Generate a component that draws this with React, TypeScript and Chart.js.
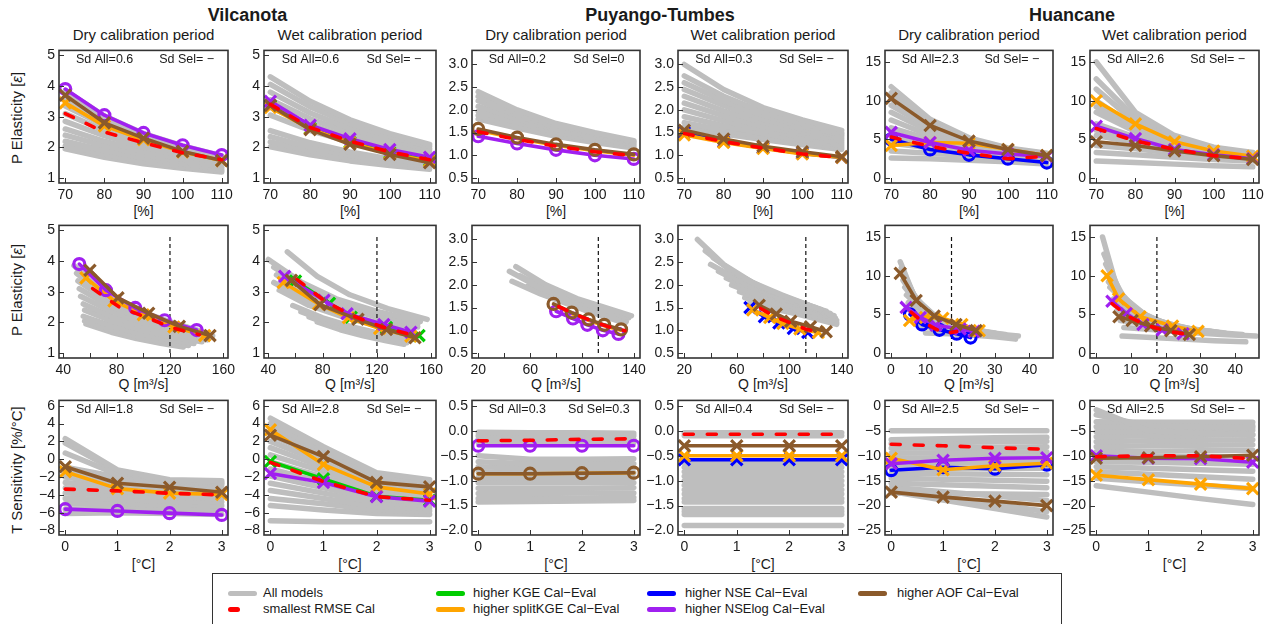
import React, { useEffect, useRef } from "react";
import { Chart, registerables } from "chart.js";

Chart.register(...registerables);

const FONT = '"Liberation Sans", Arial, Helvetica, sans-serif';

// ---------------- axes: ticks and ranges ----------------
const PCT = [70, 80, 90, 100, 110];
const DT = [0, 1, 2, 3];
const PCT_RANGE = [68.4, 111.6];
const DT_RANGE = [-0.12, 3.12];
const ELAS_TICKS = [[1, 2, 3, 4, 5], [0.5, 1.0, 1.5, 2.0, 2.5, 3.0], [0, 5, 10, 15]];
const ELAS_RANGE = [[0.84, 5.16], [0.39, 3.31], [-0.64, 16.5]];
const Q_TICKS = [[40, 60, 80, 100, 120, 140, 160], [20, 40, 60, 80, 100, 120, 140], [0, 10, 20, 30, 40]];
const Q_LABELED = [[40, 80, 120, 160], [20, 60, 100, 140], [0, 10, 20, 30, 40]];
const Q_RANGE = [[36.8, 163.5], [15.2, 144.6], [-1.7, 46.8]];
const SENS_TICKS = [[-8, -6, -4, -2, 0, 2, 4, 6], [-2.0, -1.5, -1.0, -0.5, 0.0, 0.5], [-25, -20, -15, -10, -5, 0]];
const SENS_RANGE = [[-8.5, 6.6], [-2.09, 0.61], [-25.9, 1.1]];
const Y_DECIMALS = [0, 1, 0];
const Q_THRESHOLD = [120, 112.5, 17.5];
const Q_THRESHOLD_Y = [[1, 4.85], [0.5, 3.1], [0, 15.3]];

// ---------------- texts ----------------
const BASINS = ["Vilcanota", "Puyango-Tumbes", "Huancane"];
const PERIODS = ["Dry calibration period", "Wet calibration period"];
const SD_ELAS = ["Sd All=0.6|Sd Sel= \u2212", "Sd All=0.6|Sd Sel= \u2212", "Sd All=0.2|Sd Sel=0", "Sd All=0.3|Sd Sel= \u2212", "Sd All=2.3|Sd Sel= \u2212", "Sd All=2.6|Sd Sel= \u2212"];
const SD_SENS = ["Sd All=1.8|Sd Sel= \u2212", "Sd All=2.8|Sd Sel= \u2212", "Sd All=0.3|Sd Sel=0.3", "Sd All=0.4|Sd Sel= \u2212", "Sd All=2.5|Sd Sel= \u2212", "Sd All=2.5|Sd Sel= \u2212"];
const LEGEND_LABELS = ["All models", "smallest RMSE Cal", "higher KGE Cal\u2212Eval", "higher splitKGE Cal\u2212Eval", "higher NSE Cal\u2212Eval", "higher NSElog Cal\u2212Eval", "higher AOF Cal\u2212Eval"];
const LEGEND_KEYS = ["gray", "red", "green", "orange", "blue", "purple", "brown"];

const COLORS: Record<string, string> = {
  gray: "#bebebe", red: "#ff0000", green: "#00cd00", orange: "#ffa500",
  blue: "#0000ff", purple: "#a020f0", brown: "#8b5a2b",
};

// ---------------- Vilcanota dry ----------------
const VD_ELAS = { red: [3.1, 2.5, 2.15, 1.82, 1.6], brown: [3.7, 2.8, 2.3, 1.87, 1.57], purple: [3.9, 3.05, 2.47, 2.07, 1.75], orange: [3.45, 2.7, 2.25, 1.85, 1.57] };
const VD_Q = { red: [62, 82, 103, 122, 142], brown: [60, 81, 104, 127, 150], purple: [52, 72, 94, 116, 140], orange: [57, 78, 100, 123, 146] };
const VD_SENS = { red: [-3.35, -3.55, -3.82, -4.0], brown: [-0.85, -2.7, -3.15, -3.7], purple: [-5.6, -5.8, -6.05, -6.25], orange: [-1.4, -3.3, -3.8, -3.95] };
const VD_MARK = { purple: "circle", brown: "crossRot", orange: "crossRot" };
const VD_GRAY_ELAS = [
  [3.85, 3.02, 2.45, 2.05, 1.72], [3.6, 2.88, 2.36, 1.98, 1.67], [3.35, 2.72, 2.25, 1.9, 1.62],
  [3.1, 2.55, 2.12, 1.8, 1.56], [2.85, 2.38, 2.0, 1.72, 1.5], [2.6, 2.2, 1.87, 1.62, 1.43],
  [2.4, 2.05, 1.76, 1.54, 1.37], [2.2, 1.9, 1.65, 1.46, 1.31], [2.05, 1.78, 1.55, 1.38, 1.25],
  [1.95, 1.68, 1.47, 1.32, 1.2],
];
const VD_GRAY_Q = [
  [48, 68, 92, 118, 142], [50, 71, 95, 121, 146], [51, 73, 97, 123, 150],
  [52, 74, 98, 124, 152], [53, 75, 99, 125, 150], [55, 76, 99, 123, 148],
  [56, 76, 98, 120, 144], [55, 75, 96, 117, 138], [56, 75, 95, 115, 134],
  [57, 76, 95, 113, 130],
];
const VD_GRAY_SENS = [
  [2.3, -1.2, -2.3, -2.4], [1.8, -1.4, -2.4, -2.6], [0.7, -1.7, -2.5, -2.7], [-0.9, -2.0, -2.7, -2.9],
  [-1.5, -2.4, -3.0, -3.2], [-2.0, -2.8, -3.3, -3.5], [-2.6, -3.2, -3.6, -3.8], [-3.2, -3.6, -3.9, -4.1],
  [-3.8, -4.0, -4.3, -4.4], [-4.4, -4.5, -4.7, -4.8], [-5.0, -5.0, -5.1, -5.2], [-5.6, -5.5, -5.6, -5.7],
  [-6.1, -6.0, -6.1, -6.2],
];

// ---------------- Vilcanota wet ----------------
const VW_ELAS = { red: [3.4, 2.65, 2.2, 1.85, 1.6], brown: [3.37, 2.58, 2.1, 1.77, 1.5], purple: [3.5, 2.72, 2.28, 1.93, 1.68], orange: [3.3, 2.6, 2.15, 1.8, 1.55], green: [3.35, 2.62, 2.17, 1.83, 1.57] };
const VW_Q = { red: [61, 83, 103, 124, 145], brown: [57, 78, 106, 127, 148], purple: [52, 81, 98, 125, 145], orange: [51, 77, 99, 122, 145], green: [60, 85, 101, 127, 151] };
const VW_SENS = { red: [-0.35, -2.5, -4.2, -4.6], brown: [2.7, 0.3, -2.6, -3.1], purple: [-1.6, -2.6, -4.2, -4.7], orange: [3.3, -0.6, -3.1, -3.9], green: [-0.25, -2.2, -4.15, -4.6] };
const VW_MARK = { purple: "crossRot", brown: "crossRot", orange: "crossRot", green: "crossRot" };
const VW_GRAY_ELAS = [
  [4.3, 3.5, 2.9, 2.45, 2.1], [4.05, 3.32, 2.77, 2.36, 2.03], [3.8, 3.12, 2.62, 2.25, 1.94],
  [3.55, 2.93, 2.48, 2.13, 1.85], [3.3, 2.74, 2.33, 2.02, 1.76], [3.05, 2.55, 2.18, 1.9, 1.67],
  [2.55, 2.15, 1.85, 1.62, 1.45], [2.35, 2.0, 1.74, 1.54, 1.39], [2.18, 1.88, 1.64, 1.47, 1.34],
  [2.02, 1.76, 1.56, 1.41, 1.29],
];
const VW_GRAY_Q = [
  [54, 76, 100, 128, 157], [40, 64, 90, 120, 152], [44, 68, 94, 122, 150],
  [46, 70, 96, 123, 150], [44, 67, 92, 118, 146], [48, 70, 95, 120, 145],
  [58, 80, 102, 124, 146], [64, 85, 105, 125, 144], [70, 89, 108, 126, 142],
  [76, 93, 110, 126, 140],
];
const VW_GRAY_SENS = [
  [4.6, 1.4, -1.5, -2.3], [4.0, 1.0, -1.8, -2.5], [3.4, 0.6, -2.1, -2.8], [2.7, 0.1, -2.4, -3.0],
  [2.0, -0.4, -2.7, -3.3], [1.3, -0.9, -3.0, -3.5], [0.5, -1.4, -3.3, -3.8], [-0.3, -2.0, -3.7, -4.1],
  [-1.1, -2.6, -4.1, -4.4], [-1.9, -3.2, -4.5, -4.8], [-2.7, -3.8, -4.9, -5.1], [-3.5, -4.4, -5.3, -5.5],
  [-4.4, -5.0, -5.7, -5.8], [-5.2, -5.7, -6.1, -6.2], [-6.9, -7.0, -7.0, -7.0],
];

// ---------------- Puyango-Tumbes dry ----------------
const PD_ELAS = { red: [1.52, 1.35, 1.2, 1.08, 0.99], brown: [1.58, 1.39, 1.24, 1.12, 1.02], purple: [1.42, 1.26, 1.12, 1.0, 0.92], orange: [1.55, 1.37, 1.22, 1.1, 1.0] };
const PD_Q = { red: [82, 95, 108, 120, 133], brown: [78, 92, 105, 117, 130], purple: [80, 93, 104, 116, 128], orange: [79, 92, 105, 117, 130] };
const PD_SENS = { red: [-0.2, -0.19, -0.17, -0.16], brown: [-0.86, -0.86, -0.85, -0.84], purple: [-0.3, -0.3, -0.3, -0.3], orange: [-0.86, -0.86, -0.85, -0.84] };
const PD_MARK = { brown: "circle", purple: "circle" };
const PD_GRAY_ELAS = [
  [2.4, 2.0, 1.7, 1.5, 1.32], [2.3, 1.93, 1.66, 1.47, 1.3], [2.2, 1.87, 1.62, 1.44, 1.28],
  [2.08, 1.8, 1.57, 1.4, 1.25], [1.97, 1.72, 1.51, 1.36, 1.22], [1.88, 1.65, 1.46, 1.32, 1.19],
  [1.8, 1.6, 1.42, 1.28, 1.16],
];
const PD_GRAY_Q = [
  [49, 72, 96, 118, 138], [44, 68, 92, 114, 134], [52, 75, 98, 118, 136],
  [46, 68, 90, 110, 128], [58, 79, 99, 117, 133], [64, 84, 102, 119, 134],
  [70, 88, 104, 120, 133],
];
const PD_GRAY_SENS = [
  [-0.03, -0.04, -0.04, -0.05], [-0.1, -0.1, -0.1, -0.1], [-0.17, -0.17, -0.17, -0.17], [-0.24, -0.24, -0.24, -0.24],
  [-0.5, -0.57, -0.57, -0.56], [-0.62, -0.66, -0.66, -0.66], [-0.72, -0.75, -0.75, -0.74], [-0.82, -0.84, -0.84, -0.84],
  [-0.93, -0.94, -0.94, -0.94], [-1.04, -1.04, -1.04, -1.04], [-1.15, -1.15, -1.15, -1.14], [-1.26, -1.26, -1.25, -1.25],
  [-1.36, -1.36, -1.35, -1.34], [-1.43, -1.42, -1.41, -1.4],
];

// ---------------- Puyango-Tumbes wet ----------------
const PW_ELAS = { red: [1.48, 1.3, 1.16, 1.03, 0.95], brown: [1.55, 1.36, 1.2, 1.08, 0.97], blue: [1.5, 1.3, 1.16, 1.04, 0.95], orange: [1.45, 1.28, 1.15, 1.03, 0.95] };
const PW_Q = { red: [78, 89, 101, 112, 123], brown: [77, 90, 101, 116, 128], blue: [70, 81, 92, 103, 114], orange: [72, 85, 95, 108, 122] };
const PW_SENS = { red: [-0.07, -0.07, -0.07, -0.07], brown: [-0.3, -0.3, -0.3, -0.3], blue: [-0.58, -0.58, -0.58, -0.58], orange: [-0.5, -0.5, -0.5, -0.5] };
const PW_MARK = { brown: "crossRot", blue: "crossRot", orange: "crossRot" };
const PW_GRAY_ELAS = [
  [3.0, 2.45, 2.05, 1.78, 1.55], [2.75, 2.3, 1.95, 1.7, 1.5], [2.6, 2.2, 1.88, 1.64, 1.46],
  [2.45, 2.1, 1.8, 1.58, 1.42], [2.3, 1.98, 1.72, 1.52, 1.37], [2.15, 1.87, 1.64, 1.46, 1.32],
  [2.0, 1.76, 1.56, 1.4, 1.27], [1.85, 1.65, 1.48, 1.33, 1.22], [1.72, 1.55, 1.41, 1.28, 1.17],
  [1.62, 1.47, 1.35, 1.23, 1.13],
];
const PW_GRAY_Q = [
  [30, 50, 72, 94, 115], [36, 56, 78, 100, 120], [42, 62, 84, 105, 124],
  [40, 62, 85, 108, 128], [46, 68, 90, 112, 131], [52, 73, 95, 116, 134],
  [56, 77, 98, 118, 135], [62, 82, 102, 120, 136], [66, 86, 105, 122, 136],
  [70, 89, 107, 123, 136],
];
const PW_GRAY_SENS = [
  [-0.04, -0.04, -0.04, -0.04], [-0.1, -0.1, -0.1, -0.1], [-0.64, -0.64, -0.64, -0.64], [-0.73, -0.73, -0.73, -0.73],
  [-0.82, -0.82, -0.82, -0.82], [-0.91, -0.91, -0.91, -0.91], [-1.0, -1.0, -1.0, -1.0], [-1.09, -1.09, -1.09, -1.09],
  [-1.18, -1.18, -1.18, -1.18], [-1.27, -1.27, -1.27, -1.27], [-1.36, -1.36, -1.36, -1.36], [-1.43, -1.43, -1.43, -1.43],
  [-1.56, -1.56, -1.56, -1.56], [-1.62, -1.62, -1.62, -1.62], [-1.68, -1.68, -1.68, -1.68], [-1.9, -1.9, -1.9, -1.9],
];

// ---------------- Huancane dry ----------------
const HD_ELAS = { red: [5.3, 4.1, 3.2, 2.5, 2.8], brown: [10.3, 6.8, 4.8, 3.7, 2.9], purple: [5.9, 4.6, 3.6, 3.1, 2.8], blue: [5.0, 3.7, 3.0, 2.5, 2.0], orange: [4.2, 4.6, 4.5, 3.7, 2.9] };
const HD_Q = { red: [5.8, 9, 12.5, 15.5, 19], brown: [2.7, 7.3, 12.5, 18.8, 24.6], purple: [4.4, 8.5, 13, 20, 24], blue: [5.5, 9, 14, 19, 23], orange: [5.4, 10, 15, 20.5, 25.5] };
const HD_SENS = { red: [-7.7, -8.0, -8.4, -8.7], brown: [-17.3, -18.3, -19.1, -20.0], purple: [-11.6, -10.9, -10.5, -10.4], blue: [-12.9, -12.3, -12.6, -11.8], orange: [-10.5, -12.8, -12.0, -11.5] };
const HD_MARK = { brown: "crossRot", purple: "crossRot", orange: "crossRot", blue: "circle" };
const HD_GRAY_ELAS = [
  [11.8, 7.6, 5.2, 3.9, 3.2], [11.0, 7.2, 5.0, 3.8, 3.1], [10.2, 6.9, 4.9, 3.7, 3.05],
  [9.4, 6.5, 4.7, 3.6, 3.0], [8.5, 6.0, 4.4, 3.5, 2.9], [7.5, 5.5, 4.1, 3.3, 2.8],
  [6.5, 5.0, 3.9, 3.1, 2.7], [5.5, 4.5, 3.6, 3.0, 2.6], [4.5, 3.9, 3.3, 2.8, 2.4],
  [3.5, 3.2, 2.9, 2.5, 2.2], [2.6, 2.5, 2.3, 2.1, 1.8],
];
const HD_GRAY_Q = [
  [2.7, 6.5, 11, 16, 21], [3, 7, 12, 17.5, 23], [3.3, 7.5, 12.5, 18, 24],
  [3.5, 8, 13, 19, 25], [4, 8.5, 14, 20, 26], [4.5, 9.5, 15, 21, 27],
  [5, 10, 16, 22, 28], [5.5, 11, 17, 23.5, 30], [6.5, 12.5, 19, 26, 33],
  [8, 15, 22, 29.5, 36.8], [10, 17, 24, 30, 36],
];
const HD_GRAY_SENS = [
  [-5.0, -5.0, -5.0, -5.0], [-6.8, -6.6, -6.4, -6.3], [-7.6, -7.4, -7.2, -7.1], [-8.5, -8.4, -8.3, -8.2],
  [-9.5, -9.4, -9.3, -9.2], [-10.5, -10.4, -10.3, -10.2], [-11.5, -11.5, -11.4, -11.3], [-12.5, -12.5, -12.5, -12.5],
  [-13.5, -13.6, -13.7, -13.8], [-14.5, -14.7, -14.9, -15.1], [-15.5, -15.8, -16.1, -16.4], [-16.3, -17.2, -18.1, -19.0],
  [-16.8, -18.2, -19.8, -21.2], [-17.2, -18.9, -20.6, -22.3], [-17.5, -17.6, -17.7, -17.8],
];

// ---------------- Huancane wet ----------------
const HW_ELAS = { red: [6.4, 4.8, 3.7, 2.9, 2.5], brown: [4.7, 4.2, 3.5, 2.9, 2.4], purple: [6.7, 5.1, 3.7, 3.0, 2.5], orange: [10.0, 7.0, 4.7, 3.5, 2.8] };
const HW_Q = { red: [4.6, 9, 14, 19.5, 25], brown: [6.6, 10.4, 15.7, 21.5, 26.8], purple: [4.6, 8.7, 13.5, 19, 25], orange: [3.2, 6.5, 12.7, 22, 29.3] };
const HW_SENS = { red: [-10.2, -10.0, -10.0, -10.6], brown: [-10.5, -10.4, -10.2, -9.9], purple: [-10.0, -10.5, -10.6, -11.3], orange: [-13.9, -14.8, -15.7, -16.6] };
const HW_MARK = { brown: "crossRot", purple: "crossRot", orange: "crossRot" };
const HW_GRAY_ELAS = [
  [15, 8.5, 5.5, 4.0, 3.3], [12.8, 7.8, 5.2, 3.9, 3.2], [11.5, 7.2, 5.0, 3.8, 3.1],
  [10, 6.6, 4.7, 3.6, 3.0], [9.2, 6.3, 4.5, 3.5, 2.95], [8.5, 6.0, 4.4, 3.4, 2.9],
  [7.0, 5.3, 4.1, 3.2, 2.8], [6.2, 4.9, 3.9, 3.1, 2.7], [5.5, 4.6, 3.7, 3.0, 2.6],
  [4.2, 3.8, 3.2, 2.7, 2.4], [3.3, 3.0, 2.7, 2.4, 2.2], [2.2, 2.0, 1.8, 1.6, 1.45],
];
const HW_GRAY_Q = [
  [1.9, 6, 11, 16, 21], [2.3, 7, 12.5, 18, 24], [2.8, 8, 14, 20, 26],
  [3.3, 9, 15, 21.5, 28], [3.6, 9.5, 15.7, 22, 29], [4, 10, 16.5, 23, 30],
  [5, 11.5, 18.5, 26, 33], [5.5, 12.5, 20, 27.5, 35], [6, 13.5, 21, 29, 37],
  [7, 15, 24, 33, 42], [8, 17, 26, 36, 45.9], [7.5, 16, 25, 34, 43],
];
const HW_GRAY_SENS = [
  [-0.8, -5.0, -5.5, -5.8], [-1.8, -4.0, -4.2, -4.4], [-3.2, -3.3, -3.3, -3.3], [-4.2, -4.1, -4.0, -4.0],
  [-5.2, -5.1, -5.0, -4.9], [-6.2, -6.0, -5.9, -5.8], [-7.2, -7.0, -6.9, -6.8], [-8.2, -8.0, -7.9, -7.8],
  [-9.2, -9.1, -9.0, -8.9], [-10.2, -10.2, -10.2, -10.2], [-11.2, -11.3, -11.5, -11.7], [-12.2, -12.5, -12.8, -13.1],
  [-13.2, -13.7, -14.2, -14.7], [-14.5, -15.2, -15.9, -16.6], [-16.0, -17.3, -18.6, -19.8],
];

const COLS: any[] = [
  { elas: VD_ELAS, q: VD_Q, sens: VD_SENS, mark: VD_MARK, gElas: VD_GRAY_ELAS, gQ: VD_GRAY_Q, gSens: VD_GRAY_SENS },
  { elas: VW_ELAS, q: VW_Q, sens: VW_SENS, mark: VW_MARK, gElas: VW_GRAY_ELAS, gQ: VW_GRAY_Q, gSens: VW_GRAY_SENS },
  { elas: PD_ELAS, q: PD_Q, sens: PD_SENS, mark: PD_MARK, gElas: PD_GRAY_ELAS, gQ: PD_GRAY_Q, gSens: PD_GRAY_SENS },
  { elas: PW_ELAS, q: PW_Q, sens: PW_SENS, mark: PW_MARK, gElas: PW_GRAY_ELAS, gQ: PW_GRAY_Q, gSens: PW_GRAY_SENS },
  { elas: HD_ELAS, q: HD_Q, sens: HD_SENS, mark: HD_MARK, gElas: HD_GRAY_ELAS, gQ: HD_GRAY_Q, gSens: HD_GRAY_SENS },
  { elas: HW_ELAS, q: HW_Q, sens: HW_SENS, mark: HW_MARK, gElas: HW_GRAY_ELAS, gQ: HW_GRAY_Q, gSens: HW_GRAY_SENS },
];

// first = drawn on top
const ORDER = ["red", "brown", "purple", "orange", "blue", "green"];

// ---------------- layout (pixels) ----------------
const COL_L = [59, 264, 472, 678, 885, 1090];
const COL_R = [228, 436, 640, 848, 1053, 1259];
const ROW_T = [50, 225, 400];
const ROW_B = [183, 358, 535];
const YW = 46, PT = 12, PR = 24, XH = 26;

const fmt = (v: number, dec: number) => {
  const s = Math.abs(v).toFixed(dec);
  return v < 0 ? "\u2212" + s : s;
};

const decor = {
  id: "decor",
  afterDraw(chart: any, _a: any, opts: any) {
    const { ctx, chartArea: a, scales } = chart;
    ctx.save();
    ctx.setLineDash([]);
    ctx.strokeStyle = "#333";
    ctx.lineWidth = 1;
    ctx.beginPath();
    for (const t of scales.x.ticks) {
      const px = Math.round(scales.x.getPixelForValue(t.value)) + 0.5;
      ctx.moveTo(px, a.bottom);
      ctx.lineTo(px, a.bottom - 5);
    }
    for (const t of scales.y.ticks) {
      const py = Math.round(scales.y.getPixelForValue(t.value)) + 0.5;
      ctx.moveTo(a.left, py);
      ctx.lineTo(a.left + 5, py);
    }
    ctx.stroke();
    ctx.lineWidth = 1.6;
    ctx.strokeRect(a.left, a.top, a.right - a.left, a.bottom - a.top);
    if (opts && opts.sd) {
      const [s1, s2] = opts.sd.split("|");
      const w = a.right - a.left;
      ctx.font = `12.5px ${FONT}`;
      ctx.fillStyle = "#1a1a1a";
      ctx.textAlign = "center";
      ctx.textBaseline = "middle";
      ctx.fillText(s1, a.left + 0.27 * w, a.top + 9);
      ctx.fillText(s2, a.left + 0.755 * w, a.top + 9);
    }
    ctx.restore();
  },
};

function buildConfig(c: number, r: number) {
  const b = Math.floor(c / 2);
  const col = COLS[c];
  const datasets: any[] = [];
  for (const k of ORDER) {
    const ys = r === 2 ? col.sens[k] : col.elas[k];
    if (!ys) continue;
    const xs = r === 0 ? PCT : r === 1 ? col.q[k] : DT;
    const m = col.mark[k];
    datasets.push({
      data: xs.map((x: number, i: number) => ({ x, y: ys[i] })),
      borderColor: COLORS[k],
      borderWidth: 3.6,
      borderDash: k === "red" ? [9, 14] : [],
      borderCapStyle: "round",
      borderJoinStyle: "round",
      pointStyle: m || "circle",
      pointRadius: m ? (m === "circle" ? 5.5 : 8) : 0,
      pointBorderWidth: 3.2,
      pointBorderColor: COLORS[k],
      pointBackgroundColor: "rgba(0,0,0,0)",
      pointHoverRadius: 0,
      tension: 0,
    });
  }
  if (r === 1) {
    const [y0, y1] = Q_THRESHOLD_Y[b];
    datasets.push({
      data: [{ x: Q_THRESHOLD[b], y: y0 }, { x: Q_THRESHOLD[b], y: y1 }],
      borderColor: "#111",
      borderWidth: 1.2,
      borderDash: [4, 3],
      pointRadius: 0,
    });
  }
  const grays = r === 2 ? col.gSens : col.gElas;
  grays.forEach((ys: number[], j: number) => {
    const xs = r === 0 ? PCT : r === 1 ? col.gQ[j] : DT;
    datasets.push({
      data: xs.map((x: number, i: number) => ({ x, y: ys[i] })),
      borderColor: COLORS.gray,
      borderWidth: 5.5,
      borderCapStyle: "round",
      borderJoinStyle: "round",
      pointRadius: 0,
      tension: 0,
    });
  });

  const xTicks = r === 0 ? PCT : r === 1 ? Q_TICKS[b] : DT;
  const xLabeled = r === 1 ? Q_LABELED[b] : xTicks;
  const xRange = r === 0 ? PCT_RANGE : r === 1 ? Q_RANGE[b] : DT_RANGE;
  const yTicks = r === 2 ? SENS_TICKS[b] : ELAS_TICKS[b];
  const yRange = r === 2 ? SENS_RANGE[b] : ELAS_RANGE[b];
  const dec = Y_DECIMALS[b];
  const tickFont = { family: FONT, size: 14 };

  return {
    type: "line",
    data: { datasets },
    plugins: [decor],
    options: {
      animation: false,
      responsive: false,
      maintainAspectRatio: false,
      events: [],
      layout: { padding: { top: PT, right: PR, left: 0, bottom: 0 } },
      plugins: {
        legend: { display: false },
        tooltip: { enabled: false },
        decor: { sd: r === 0 ? SD_ELAS[c] : r === 2 ? SD_SENS[c] : null },
      },
      scales: {
        x: {
          type: "linear",
          min: xRange[0],
          max: xRange[1],
          afterBuildTicks: (s: any) => { s.ticks = xTicks.map((v: number) => ({ value: v })); },
          afterFit: (s: any) => { s.height = XH; },
          grid: { display: false, drawTicks: false },
          border: { display: false },
          ticks: {
            autoSkip: false, maxRotation: 0, padding: 4, color: "#1a1a1a", font: tickFont,
            callback: (v: number) => (xLabeled.includes(v) ? fmt(v, 0) : ""),
          },
        },
        y: {
          type: "linear",
          min: yRange[0],
          max: yRange[1],
          afterBuildTicks: (s: any) => { s.ticks = yTicks.map((v: number) => ({ value: v })); },
          afterFit: (s: any) => { s.width = YW; },
          grid: { display: false, drawTicks: false },
          border: { display: false },
          ticks: {
            autoSkip: false, padding: 4, color: "#1a1a1a", font: tickFont,
            callback: (v: number) => fmt(v, dec),
          },
        },
      },
    },
  };
}

function Panel({ c, r }: { c: number; r: number }) {
  const ref = useRef<HTMLCanvasElement>(null);
  const L = COL_L[c], R = COL_R[c], T = ROW_T[r], B = ROW_B[r];
  const w = YW + (R - L) + PR;
  const h = PT + (B - T) + XH;
  useEffect(() => {
    const chart = new Chart(ref.current as HTMLCanvasElement, buildConfig(c, r) as any);
    return () => chart.destroy();
  }, [c, r]);
  return (
    <canvas
      ref={ref}
      width={w}
      height={h}
      style={{ position: "absolute", left: L - YW, top: T - PT, width: w, height: h }}
    />
  );
}

function Txt({ x, y, size = 14, bold = false, rotate = false, children }: any) {
  return (
    <div
      style={{
        position: "absolute", left: x, top: y,
        transform: `translate(-50%, -50%)${rotate ? " rotate(-90deg)" : ""}`,
        font: `${bold ? "bold " : ""}${size}px ${FONT}`,
        whiteSpace: "nowrap", color: "#1a1a1a", lineHeight: 1,
      }}
    >
      {children}
    </div>
  );
}

export default function App() {
  const panels: any[] = [];
  for (let r = 0; r < 3; r++) for (let c = 0; c < 6; c++) panels.push(<Panel key={`${r}-${c}`} c={c} r={r} />);
  const centers = COL_L.map((l, i) => (l + COL_R[i]) / 2);
  const xTitles = ["[%]", "Q [m\u00b3/s]", "[\u00b0C]"];
  const xTitleY = [211, 384, 564];
  const legCols = [228, 436, 647, 858];
  const legText = [263, 473, 685, 897];
  const legRows = [593, 609];
  return (
    <div style={{ position: "absolute", left: 0, top: 0, width: 1276, height: 624, background: "#fff", overflow: "hidden", fontFamily: FONT }}>
      {BASINS.map((n, i) => (
        <Txt key={n} x={(COL_L[2 * i] + COL_R[2 * i + 1]) / 2} y={15} size={18} bold>{n}</Txt>
      ))}
      {centers.map((x, i) => (
        <Txt key={"p" + i} x={x} y={34} size={15}>{PERIODS[i % 2]}</Txt>
      ))}
      {[0, 1, 2].map((r) => centers.map((x, i) => (
        <Txt key={`xt${r}-${i}`} x={x} y={xTitleY[r]} size={14}>{xTitles[r]}</Txt>
      )))}
      <Txt x={16} y={118} size={15} rotate>P Elasticity [<i>ε</i>]</Txt>
      <Txt x={16} y={290} size={15} rotate>P Elasticity [<i>ε</i>]</Txt>
      <Txt x={16} y={470} size={15} rotate>T Sensitivity [%/°C]</Txt>
      {panels}
      <div style={{ position: "absolute", left: 212, top: 573, width: 850, height: 80, border: "1px solid #333", boxSizing: "border-box" }} />
      {LEGEND_LABELS.map((lab, i) => {
        const cc = Math.floor(i / 2), rr = i % 2;
        const key = LEGEND_KEYS[i];
        const len = key === "red" ? 12 : 29;
        return (
          <React.Fragment key={lab}>
            <div style={{ position: "absolute", left: legCols[cc], top: legRows[rr] - 2.5, width: len, height: 5, borderRadius: 3, background: COLORS[key] }} />
            <div style={{ position: "absolute", left: legText[cc], top: legRows[rr] - 8, font: `13px ${FONT}`, lineHeight: "16px", color: "#1a1a1a", whiteSpace: "nowrap" }}>{lab}</div>
          </React.Fragment>
        );
      })}
    </div>
  );
}
